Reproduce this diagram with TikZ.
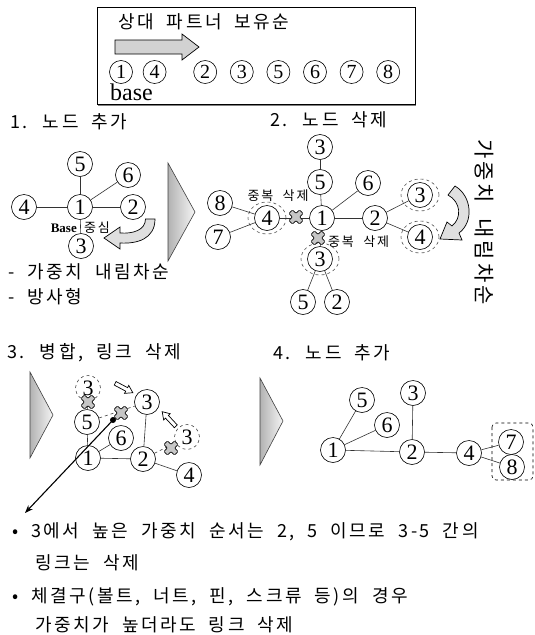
\documentclass[tikz,border=0pt]{standalone}
\usepackage{fontspec}
\setmainfont{Liberation Serif}
\newfontfamily\kr[LetterSpace=14, WordSpace=2]{Noto Sans CJK KR}
\usetikzlibrary{arrows.meta, positioning, shapes.geometric}

\tikzset{
  xmark/.pic={\draw[fill=gray!45, draw=black, line width=0.7pt, rounded corners=1pt, rotate=45]
    (2.5,2.5) -- (7.5,2.5) -- (7.5,-2.5) -- (2.5,-2.5) -- (2.5,-7.5) -- (-2.5,-7.5) -- (-2.5,-2.5)
    -- (-7.5,-2.5) -- (-7.5,2.5) -- (-2.5,2.5) -- (-2.5,7.5) -- (2.5,7.5) -- cycle;},
  hollowarrow/.pic={\draw[fill=white, line width=0.7pt]
    (-10,-2) -- (3,-2) -- (3,-4.5) -- (10,0) -- (3,4.5) -- (3,2) -- (-10,2) -- cycle;}
}

\begin{document}
\begin{tikzpicture}[
  x=1pt, y=-1pt,
  vtx/.style={circle, draw=black, line width=0.6pt, fill=white, minimum size=25pt, inner sep=0pt, font=\fontsize{22}{22}\selectfont},
  tvtx/.style={vtx, minimum size=23pt, font=\fontsize{20}{20}\selectfont},
  gone/.style={vtx, dashed, draw=gray!60!black},
  dup/.style={ellipse, draw=gray!60!black, dashed, line width=0.6pt, minimum width=38pt, minimum height=32pt},
  link/.style={draw=gray!40!black, line width=0.6pt},
  title/.style={anchor=west, inner sep=0pt, font=\kr\fontsize{18}{18}\selectfont},
  note/.style={inner sep=0pt, font=\kr\fontsize{13}{13}\selectfont},
  wedge/.style={draw=gray!50!black, line width=0.6pt, left color=gray!60, right color=gray!8},
  curlarrow/.style={draw=black, line width=0.7pt, fill=gray!25}
]
\useasboundingbox (0,0) rectangle (535,635);

% Legend box
\draw[gray, line width=2pt] (98,105) -- (416,105);
\draw[line width=0.7pt] (97,7) rectangle (415,104);
\node[title] (order) at (118,22) {상대 파트너 보유순};
\draw[curlarrow, fill=gray!35] (115,40) -- (182,40) -- (182,34) -- (199,47) -- (182,60) -- (182,54) -- (115,54) -- cycle;
\node[tvtx] (t1) at (121,72) {1};
\node[tvtx, right=10pt of t1] (t4) {4};
\node[tvtx, right=27pt of t4] (t2) {2};
\node[tvtx, right=13pt of t2] (t3) {3};
\node[tvtx, right=13pt of t3] (t5) {5};
\node[tvtx, right=13pt of t5] (t6) {6};
\node[tvtx, right=13pt of t6] (t7) {7};
\node[tvtx, right=13pt of t7] (t8) {8};
\node[anchor=west, inner sep=0pt, font=\fontsize{24}{24}\selectfont] (base) at (110,92) {base};

% Step 1
\node[title] (s1) at (10,122) {1. 노드 추가};
\node[vtx] (a1) at (80,207) {1};
\node[vtx] (a5) at (80,164) {5};
\node[vtx] (a6) at (128,175) {6};
\node[vtx] (a4) at (24,207) {4};
\node[vtx] (a2) at (133,207) {2};
\node[vtx] (a3) at (81,246) {3};
\draw[link] (a1) -- (a5);
\draw[link] (a1) -- (a6);
\draw[link] (a1) -- (a4);
\draw[link] (a1) -- (a2);
\draw[link] (a1) -- (a3);
\node[anchor=east, inner sep=0pt, font=\bfseries\fontsize{13}{13}\selectfont] (basetag) at (77,228) {Base};
\node[note, anchor=west] (centertag) at (84,228) {중심};
\draw[curlarrow] (145.5,219) -- (155,219) .. controls (155,239) and (137,244) .. (120,243) -- (120,249)
  -- (104,238) -- (120,227) -- (120,233) .. controls (133,234) and (145.5,230) .. (145.5,219) -- cycle;
\node[title] (r1) at (8,272) {- 가중치 내림차순};
\node[title] (r2) at (8,297) {- 방사형};
\draw[wedge] (168,163) -- (195,212) -- (168,261) -- cycle;

% Step 2
\node[title] (s2) at (270,120) {2. 노드 삭제};
\node[vtx] (b1) at (322,218) {1};
\node[vtx] (b5) at (320,182) {5};
\node[vtx] (b3t) at (320,147) {3};
\node[vtx] (b6) at (368,183) {6};
\node[vtx] (b2) at (375,218) {2};
\node[vtx] (b4) at (267,218) {4};
\node[vtx] (b8) at (220,203) {8};
\node[vtx] (b7) at (218,237) {7};
\node[vtx] (b3r) at (420,195) {3};
\node[vtx] (b4r) at (420,237) {4};
\node[vtx] (b3b) at (320,259) {3};
\node[vtx] (b5b) at (303,302) {5};
\node[vtx] (b2b) at (337,302) {2};
\node[dup] (d4) at (b4) {};
\node[dup] (d3r) at (b3r) {};
\node[dup] (d4r) at (b4r) {};
\node[dup] (d3b) at (b3b) {};
\draw[link] (b3t) -- (b5);
\draw[link] (b5) -- (b1);
\draw[link] (b1) -- (b6);
\draw[link] (b1) -- (b2);
\draw[link] (b4) -- (b1);
\draw[link] (b1) -- (b3b);
\draw[link] (b2) -- (b3r);
\draw[link] (b2) -- (b4r);
\draw[link] (b4) -- (b8);
\draw[link] (b4) -- (b7);
\draw[link] (b3b) -- (b5b);
\draw[link] (b3b) -- (b2b);
\pic at (296,217) {xmark};
\pic at (318,238) {xmark};
\node[note] (dupup) at (278,196) {중복 삭제};
\node[note, anchor=west] (duplow) at (328,242) {중복 삭제};
\draw[curlarrow] (448,195) -- (455,186) .. controls (472,196) and (474,222) .. (459,233) -- (462,240)
  -- (440,239) -- (447,222) -- (452,226) .. controls (462,218) and (461,202) .. (448,195) -- cycle;
\node[rotate=-90, inner sep=0pt, font=\kr\fontsize{21}{21}\selectfont] (sideways) at (484,222) {가중치 내림차순};

% Step 3
\node[title] (s3) at (7,353) {3. 병합, 링크 삭제};
\draw[wedge] (30,372) -- (53,415) -- (30,458) -- cycle;
\node[gone] (c3a) at (88,388) {3};
\node[vtx] (c5) at (87,422) {5};
\node[vtx] (c6) at (121,438) {6};
\node[vtx] (c1) at (88,458) {1};
\node[vtx] (c2) at (143,459) {2};
\node[vtx] (c4) at (189,475) {4};
\node[vtx] (c3) at (147,402) {3};
\node[gone] (c3b) at (187,437) {3};
\draw[link] (c3a) -- (c5);
\draw[link] (c5) -- (c1);
\draw[link] (c1) -- (c6);
\draw[link] (c1) -- (c2);
\draw[link] (c2) -- (c3);
\draw[link] (c2) -- (c4);
\draw[link, dashed] (c5) -- (c3);
\draw[link, dashed] (c2) -- (c3b);
\pic at (88,402) {xmark};
\pic at (121,413) {xmark};
\pic at (171,448) {xmark};
\pic[rotate=-28] at (124,388) {hollowarrow};
\pic[rotate=133] at (169,419) {hollowarrow};
\node[circle, fill=black, inner sep=0pt, minimum size=6pt] (dot) at (113,420) {};
\coordinate (tip) at (25,513);
\draw[-{Stealth[length=8pt, width=6pt]}, line width=1.1pt] (dot.center) -- (tip);

% Step 4
\node[title] (s4) at (273,353) {4. 노드 추가};
\draw[wedge] (260,378) -- (283,421) -- (260,465) -- cycle;
\node[vtx] (e1) at (333,450) {1};
\node[vtx] (e5) at (362,400) {5};
\node[vtx] (e6) at (387,425) {6};
\node[vtx] (e3) at (413,393) {3};
\node[vtx] (e2) at (412,452) {2};
\node[vtx] (e4) at (469,453) {4};
\node[vtx] (e7) at (511,442) {7};
\node[vtx] (e8) at (512,467) {8};
\draw[link] (e1) -- (e5);
\draw[link] (e1) -- (e6);
\draw[link] (e1) -- (e2);
\draw[link] (e2) -- (e3);
\draw[link] (e2) -- (e4);
\draw[link] (e4) -- (e7);
\draw[link] (e4) -- (e8);
\draw[dashed, line width=0.6pt, rounded corners=4pt] (492,423) rectangle (533,480);

% Notes
\node[title] (n1) at (12,532) {• 3에서 높은 가중치 순서는 2, 5 이므로 3-5 간의};
\node[title] (n2) at (35,563) {링크는 삭제};
\node[title] (n3) at (12,597) {• 체결구(볼트, 너트, 핀, 스크류 등)의 경우};
\node[title] (n4) at (35,625) {가중치가 높더라도 링크 삭제};

\end{tikzpicture}
\end{document}
